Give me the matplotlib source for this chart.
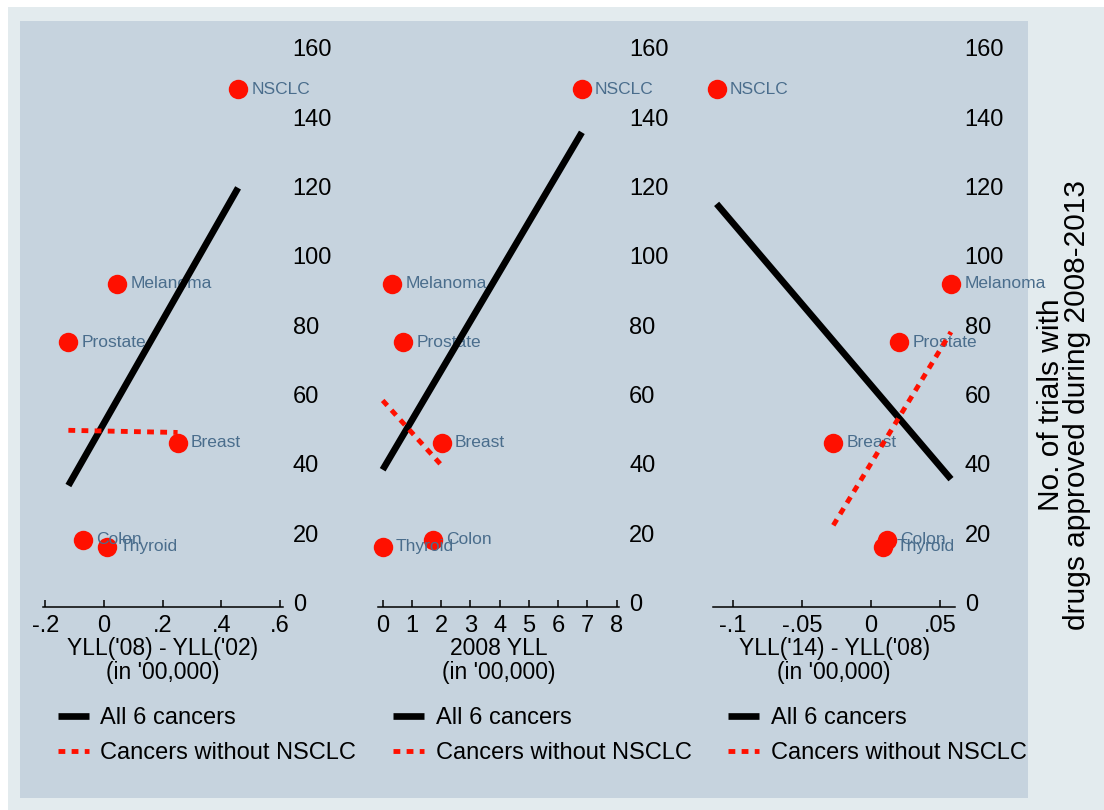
import numpy as np
import matplotlib
matplotlib.use("Agg")
import matplotlib.pyplot as plt
from matplotlib.patches import Rectangle

plt.rcParams["font.family"] = ["Liberation Sans", "DejaVu Sans"]

# ---- data -------------------------------------------------------------
cancers = ["NSCLC", "Melanoma", "Prostate", "Breast", "Colon", "Thyroid"]
trials = [148, 92, 75, 46, 18, 16]

yll_change_02_08 = [0.457, 0.045, -0.121, 0.251, -0.070, 0.009]
yll_2008 = [6.81, 0.33, 0.70, 2.02, 1.71, 0.0]
yll_change_08_14 = [-0.1115, 0.0578, 0.0202, -0.0272, 0.0113, 0.0089]

xlabels = ["YLL('08) - YLL('02)\n(in '00,000)",
           "2008 YLL\n(in '00,000)",
           "YLL('14) - YLL('08)\n(in '00,000)"]
xtick_values = [[-0.2, 0, 0.2, 0.4, 0.6],
                [0, 1, 2, 3, 4, 5, 6, 7, 8],
                [-0.1, -0.05, 0, 0.05]]
xtick_labels = [["-.2", "0", ".2", ".4", ".6"],
                ["0", "1", "2", "3", "4", "5", "6", "7", "8"],
                ["-.1", "-.05", "0", ".05"]]
ytick_values = [0, 20, 40, 60, 80, 100, 120, 140, 160]
grid_values = [20, 40, 60, 80, 100, 120, 140]
legend_labels = ["All 6 cancers", "Cancers without NSCLC"]
ytitle = "No. of trials with\ndrugs approved during 2008-2013"

# ---- layout (pixel geometry of a 1104 x 810 canvas) --------------------
W, H = 1104, 810
def fx(px):
    return px / W
def fy(py):
    return 1 - py / H

panel_px = [(43, 283), (378.3, 619.3), (713.3, 955)]
xlims = [(-0.2075, 0.610), (-0.15, 8.09), (-0.1139, 0.0607)]
ylim = (-1.2, 161)
ax_top, ax_bot = 44.4, 606.5

BG_OUTER = "#e3ebee"
BG_INNER = "#c6d3de"
LABEL_COL = "#4a6d8c"
RED = "#ff1000"

fig = plt.figure(figsize=(W / 100, H / 100), dpi=100)
fig.patch.set_facecolor("white")
fig.add_artist(Rectangle((fx(8), 0), 1 - fx(8), fy(7), transform=fig.transFigure,
                         facecolor=BG_OUTER, edgecolor="none", zorder=-10))
fig.add_artist(Rectangle((fx(20), fy(798)), (1028 - 20) / W, (798 - 21) / H,
                         transform=fig.transFigure, facecolor=BG_INNER,
                         edgecolor="none", zorder=-9))

y = np.array(trials, dtype=float)
for i, xs in enumerate([yll_change_02_08, yll_2008, yll_change_08_14]):
    L, R = panel_px[i]
    ax = fig.add_axes([fx(L), fy(ax_bot), (R - L) / W, (ax_bot - ax_top) / H])
    ax.set_facecolor("none")
    x = np.array(xs, dtype=float)

    # points and their labels
    ax.plot(x, y, "o", color=RED, ms=14, mec="none", zorder=2, clip_on=False)
    for name, xi, yi in zip(cancers, x, y):
        ax.annotate(name, (xi, yi), xytext=(9.5, 0), textcoords="offset points",
                    va="center", ha="left", fontsize=12.5, color=LABEL_COL,
                    zorder=3, annotation_clip=False)

    # linear fits: all cancers, and without NSCLC
    b1, a1 = np.polyfit(x, y, 1)
    xr = np.array([x.min(), x.max()])
    h1, = ax.plot(xr, a1 + b1 * xr, color="black", lw=4.8, zorder=4,
                  solid_capstyle="butt", label=legend_labels[0])
    x5, y5 = x[1:], y[1:]
    b2, a2 = np.polyfit(x5, y5, 1)
    xr5 = np.array([x5.min(), x5.max()])
    h2, = ax.plot(xr5, a2 + b2 * xr5, color=RED, lw=3.5, zorder=4,
                  linestyle=(0, (1.4, 1.3)), dash_capstyle="butt",
                  label=legend_labels[1])

    ax.set_xlim(*xlims[i])
    ax.set_ylim(*ylim)

    for s in ["top", "left", "right"]:
        ax.spines[s].set_visible(False)
    ax.spines["bottom"].set_linewidth(1.1)
    ax.spines["bottom"].set_color("black")

    ax.set_xticks(xtick_values[i])
    ax.set_xticklabels(xtick_labels[i])
    ax.tick_params(axis="x", direction="in", length=5, width=1.1, pad=6,
                   labelsize=17, colors="black")

    ax.yaxis.tick_right()
    ax.set_yticks(ytick_values)
    ax.set_yticks(grid_values, minor=True)
    ax.tick_params(axis="y", which="major", length=0, pad=7, labelsize=17)
    ax.tick_params(axis="y", which="minor", length=0)
    ax.grid(False)
    ax.grid(True, which="minor", axis="y", color="white", lw=1.6)
    ax.set_axisbelow(True)

    ax.set_xlabel(xlabels[i], fontsize=16.5, linespacing=1.05)
    ax.xaxis.set_label_coords(0.5, (ax_bot - 660.5) / (ax_bot - ax_top))
    ax.xaxis.label.set_va("center")

    ax.legend(handles=[h1, h2], loc="upper left",
              bbox_to_anchor=(fx(L + 15), fy(707)), bbox_transform=fig.transFigure,
              frameon=False, fontsize=17, handlelength=1.3, handletextpad=0.5,
              borderpad=0, borderaxespad=0, labelspacing=0.55)

fig.text(fx(1064), fy(405), ytitle, rotation=90, ha="center", va="center",
         fontsize=21.5, linespacing=0.88)

fig.savefig("out.png", dpi=100, facecolor=fig.get_facecolor())
